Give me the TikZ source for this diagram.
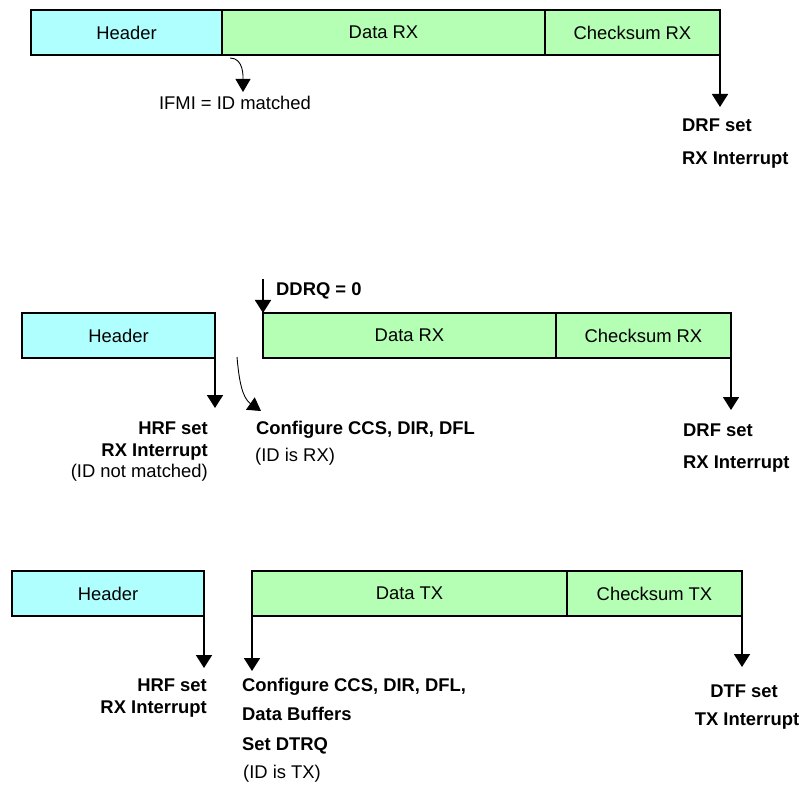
\documentclass[tikz,border=0pt]{standalone}
\usepackage{fontspec}
\setmainfont{Liberation Sans}
\usepackage{xcolor}
\usepackage{tikz}
\usetikzlibrary{arrows.meta,positioning}
\definecolor{headcyan}{RGB}{176,255,255}
\definecolor{datagreen}{RGB}{180,255,180}

\tikzset{
  field/.style={draw=black, line width=2pt, minimum height=45pt, inner sep=0pt, outer sep=0pt, anchor=north west, font=\fontsize{18.4}{22}\selectfont},
  hdrfield/.style={field, fill=headcyan},
  datfield/.style={field, fill=datagreen},
  flagarrow/.style={-{Triangle[width=16pt,length=13pt]}, line width=1.8pt},
  bendarrow/.style={-{Triangle[width=15pt,length=13pt]}, line width=0.9pt},
  lbl/.style={font=\fontsize{18.4}{22}\selectfont\bfseries, inner sep=0pt},
  note/.style={font=\fontsize{18.4}{22}\selectfont, inner sep=0pt}
}

\begin{document}
\begin{tikzpicture}[x=1pt, y=-1pt]
  \useasboundingbox (0,0) rectangle (803,786);

  % Row 1: ID matched, frame received
  \node[hdrfield, minimum width=191pt] (hdrA) at (31,10) {Header};
  \node[datfield, minimum width=323pt, right=0pt of hdrA] (datA) {Data RX};
  \node[datfield, minimum width=175pt, right=0pt of datA] (cksA) {Checksum RX};

  \coordinate (ifmiFrom) at (230,58);
  \coordinate (ifmiTip) at (243,92);
  \draw[bendarrow] (ifmiFrom) to[out=0, in=90] (ifmiTip);
  \node at (235,110) [note, anchor=base] (ifmi) {IFMI = ID matched};

  \coordinate (drfAtip) at (cksA.south east |- 0,107);
  \draw[flagarrow] (cksA.south east) -- (drfAtip);
  \node at (682,132) [lbl, anchor=base west] (drfA) {DRF set};
  \node at (682,165) [lbl, anchor=base west] (rxintA) {RX Interrupt};

  % Row 2: ID not matched, receive set up by software
  \node[hdrfield, minimum width=193pt] (hdrB) at (22,313) {Header};
  \node[datfield, minimum width=293pt] (datB) at (263,313) {Data RX};
  \node[datfield, minimum width=175pt, right=0pt of datB] (cksB) {Checksum RX};

  \coordinate (ddrqTop) at (datB.north west |- 0,279);
  \draw[flagarrow] (ddrqTop) -- (datB.north west);
  \node at (276,295) [lbl, anchor=base west] (ddrq) {DDRQ = 0};

  \coordinate (hrfBtip) at (hdrB.south east |- 0,408);
  \draw[flagarrow] (hdrB.south east) -- (hrfBtip);
  \node at (208,434) [lbl, anchor=base east] (hrfB) {HRF set};
  \node at (208,456) [lbl, anchor=base east] (rxintB) {RX Interrupt};
  \node at (208,477) [note, anchor=base east] (nomatch) {(ID not matched)};

  \coordinate (cfgBfrom) at (237,357);
  \coordinate (cfgBtip) at (261,411);
  \draw[bendarrow] (cfgBfrom) to[out=-85, in=145] (cfgBtip);
  \node at (256,434) [lbl, anchor=base west] (cfgB) {Configure CCS, DIR, DFL};
  \node at (255,461) [note, anchor=base west] (isrx) {(ID is RX)};

  \coordinate (drfBtip) at (cksB.south east |- 0,410);
  \draw[flagarrow] (cksB.south east) -- (drfBtip);
  \node at (683,436) [lbl, anchor=base west] (drfB) {DRF set};
  \node at (683,468) [lbl, anchor=base west] (rxintC) {RX Interrupt};

  % Row 3: ID is TX, data sent
  \node[hdrfield, minimum width=192pt] (hdrC) at (12,571) {Header};
  \node[datfield, minimum width=315pt] (datC) at (252,571) {Data TX};
  \node[datfield, minimum width=175pt, right=0pt of datC] (cksC) {Checksum TX};

  \coordinate (hrfCtip) at (hdrC.south east |- 0,668);
  \draw[flagarrow] (hdrC.south east) -- (hrfCtip);
  \node at (207,691) [lbl, anchor=base east] (hrfC) {HRF set};
  \node at (207,713) [lbl, anchor=base east] (rxintD) {RX Interrupt};

  \coordinate (cfgCtip) at (datC.south west |- 0,671);
  \draw[flagarrow] (datC.south west) -- (cfgCtip);
  \node at (242,691) [lbl, anchor=base west] (cfgC) {Configure CCS, DIR, DFL,};
  \node at (242,720) [lbl, anchor=base west] (bufC) {Data Buffers};
  \node at (242,750) [lbl, anchor=base west] (dtrq) {Set DTRQ};
  \node at (243,778) [note, anchor=base west] (istx) {(ID is TX)};

  \coordinate (dtfCtip) at (cksC.south east |- 0,667);
  \draw[flagarrow] (cksC.south east) -- (dtfCtip);
  \node at (744,697) [lbl, anchor=base] (dtf) {DTF set};
  \node at (747,725) [lbl, anchor=base] (txint) {TX Interrupt};

\end{tikzpicture}
\end{document}
